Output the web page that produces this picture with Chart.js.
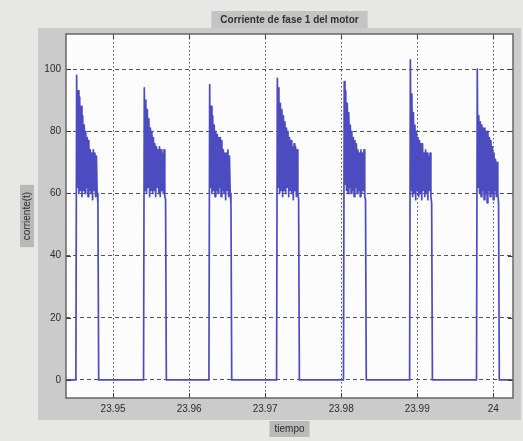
<!DOCTYPE html>
<html>
<head>
<meta charset="utf-8">
<script src="https://cdn.jsdelivr.net/npm/chart.js@4/dist/chart.umd.min.js"></script>
<style>
  html, body { margin: 0; padding: 0; background: #e7e7e5; }
  #wrap { width: 523px; height: 441px; position: relative; }
</style>
</head>
<body>
<div id="wrap"><canvas id="c" width="523" height="441"></canvas></div>
<script>
// Texts
const chartTitle = 'Corriente de fase 1 del motor';
const xAxisTitle = 'tiempo';
const yAxisTitle = 'corriente(t)';

// Axis ticks and limits
const xTickValues = [23.95, 23.96, 23.97, 23.98, 23.99, 24];
const yTickValues = [0, 20, 40, 60, 80, 100];
const timeLimits = [23.9438, 24.0026];
const currentLimits = [-5.8, 111.3];

// Idle current before the first and after the last pulse
const idleTime = [23.9438, 24.0026];
const idleCurrent = [0, 0];

// Phase-1 current samples, one pulse at a time (time in s, current in A)
const pulse1Time = [23.9451, 23.9452, 23.9453, 23.9454, 23.9455, 23.9456, 23.9457, 23.9458, 23.9459, 23.9460, 23.9461, 23.9462, 23.9463, 23.9464, 23.9465, 23.9466, 23.9467, 23.9468, 23.9469, 23.9470, 23.9471, 23.9472, 23.9473, 23.9474, 23.9475, 23.9476, 23.9477, 23.9478, 23.9479, 23.9480, 23.9481];
const pulse1Current = [0, 98, 62, 93, 60, 91, 61, 88, 59, 85, 61, 82, 60, 80, 62, 78, 59, 77, 61, 74, 60, 73, 58, 74, 61, 73, 59, 72, 60, 57, 0];

const pulse2Time = [23.9540, 23.9541, 23.9542, 23.9543, 23.9544, 23.9545, 23.9546, 23.9547, 23.9548, 23.9549, 23.9550, 23.9551, 23.9552, 23.9553, 23.9554, 23.9555, 23.9556, 23.9557, 23.9558, 23.9559, 23.9560, 23.9561, 23.9562, 23.9563, 23.9564, 23.9565, 23.9566, 23.9567, 23.9568, 23.9569, 23.9570];
const pulse2Current = [0, 94, 61, 90, 60, 87, 62, 84, 59, 81, 61, 80, 60, 78, 61, 76, 59, 75, 62, 74, 60, 75, 59, 74, 61, 73, 60, 74, 59, 58, 0];

const pulse3Time = [23.9626, 23.9627, 23.9628, 23.9629, 23.9630, 23.9631, 23.9632, 23.9633, 23.9634, 23.9635, 23.9636, 23.9637, 23.9638, 23.9639, 23.9640, 23.9641, 23.9642, 23.9643, 23.9644, 23.9645, 23.9646, 23.9647, 23.9648, 23.9649, 23.9650, 23.9651, 23.9652, 23.9653, 23.9654, 23.9655, 23.9656];
const pulse3Current = [0, 95, 62, 88, 60, 85, 61, 82, 59, 80, 61, 79, 60, 78, 62, 78, 59, 77, 61, 74, 60, 73, 58, 73, 61, 74, 59, 72, 60, 57, 0];

const pulse4Time = [23.9715, 23.9716, 23.9717, 23.9718, 23.9719, 23.9720, 23.9721, 23.9722, 23.9723, 23.9724, 23.9725, 23.9726, 23.9727, 23.9728, 23.9729, 23.9730, 23.9731, 23.9732, 23.9733, 23.9734, 23.9735, 23.9736, 23.9737, 23.9738, 23.9739, 23.9740, 23.9741, 23.9742, 23.9743, 23.9744, 23.9745];
const pulse4Current = [0, 97, 62, 94, 60, 89, 61, 87, 59, 85, 61, 83, 60, 81, 62, 80, 59, 78, 61, 77, 60, 75, 58, 76, 61, 75, 59, 74, 60, 58, 0];

const pulse5Time = [23.9803, 23.9804, 23.9805, 23.9806, 23.9807, 23.9808, 23.9809, 23.9810, 23.9811, 23.9812, 23.9813, 23.9814, 23.9815, 23.9816, 23.9817, 23.9818, 23.9819, 23.9820, 23.9821, 23.9822, 23.9823, 23.9824, 23.9825, 23.9826, 23.9827, 23.9828, 23.9829, 23.9830, 23.9831, 23.9832, 23.9833];
const pulse5Current = [0, 96, 63, 93, 61, 89, 60, 86, 62, 82, 60, 80, 61, 78, 59, 77, 62, 76, 60, 74, 61, 73, 59, 74, 60, 73, 61, 74, 59, 58, 0];

const pulse6Time = [23.9890, 23.9891, 23.9892, 23.9893, 23.9894, 23.9895, 23.9896, 23.9897, 23.9898, 23.9899, 23.9900, 23.9901, 23.9902, 23.9903, 23.9904, 23.9905, 23.9906, 23.9907, 23.9908, 23.9909, 23.9910, 23.9911, 23.9912, 23.9913, 23.9914, 23.9915, 23.9916, 23.9917, 23.9918, 23.9919, 23.9920];
const pulse6Current = [0, 103, 61, 92, 59, 86, 60, 82, 58, 80, 61, 78, 59, 77, 60, 76, 58, 76, 61, 73, 59, 74, 60, 73, 58, 72, 61, 73, 59, 57, 0];

const pulse7Time = [23.9978, 23.9979, 23.9980, 23.9981, 23.9982, 23.9983, 23.9984, 23.9985, 23.9986, 23.9987, 23.9988, 23.9989, 23.9990, 23.9991, 23.9992, 23.9993, 23.9994, 23.9995, 23.9996, 23.9997, 23.9998, 23.9999, 24.0000, 24.0001, 24.0002, 24.0003, 24.0004, 24.0005, 24.0006, 24.0007, 24.0008];
const pulse7Current = [0, 100, 62, 85, 60, 83, 59, 82, 61, 81, 58, 81, 60, 80, 57, 80, 61, 78, 59, 77, 60, 75, 58, 73, 61, 71, 59, 70, 60, 57, 0];

// Assemble the trace in time order
const pulses = [
  [pulse1Time, pulse1Current],
  [pulse2Time, pulse2Current],
  [pulse3Time, pulse3Current],
  [pulse4Time, pulse4Current],
  [pulse5Time, pulse5Current],
  [pulse6Time, pulse6Current],
  [pulse7Time, pulse7Current]
];
const trace = [{ x: idleTime[0], y: idleCurrent[0] }];
pulses.forEach(([t, i]) => t.forEach((tt, k) => trace.push({ x: tt, y: i[k] })));
trace.push({ x: idleTime[1], y: idleCurrent[1] });

const FONT = '"Liberation Sans", Arial, sans-serif';

// Figure panel, plot background, label boxes, frame and inside ticks
const figurePlugin = {
  id: 'figure',
  beforeDraw(chart) {
    const { ctx, chartArea: a } = chart;
    ctx.save();
    ctx.fillStyle = '#e7e7e5';
    ctx.fillRect(0, 0, chart.width, chart.height);
    ctx.fillStyle = '#cbcbcb';
    ctx.fillRect(38, 28, 483, 392);
    ctx.fillStyle = '#fcfcfc';
    ctx.fillRect(a.left, a.top, a.right - a.left, a.bottom - a.top);

    // boxes behind axis titles
    ctx.font = '10px ' + FONT;
    const cx = (a.left + a.right) / 2, cy = (a.top + a.bottom) / 2;
    ctx.fillStyle = '#b9b9b9';
    const wx = ctx.measureText(xAxisTitle).width + 10;
    ctx.fillRect(cx - wx / 2, 421, wx, 16);
    const wy = ctx.measureText(yAxisTitle).width + 14;
    ctx.fillRect(20, cy - wy / 2, 14, wy);

    // title box and text
    ctx.font = 'bold 10px ' + FONT;
    const wt = ctx.measureText(chartTitle).width + 18;
    ctx.fillStyle = '#c4c4c4';
    ctx.fillRect(cx - wt / 2, 11, wt, 17);
    ctx.fillStyle = '#303030';
    ctx.textAlign = 'center';
    ctx.textBaseline = 'middle';
    ctx.fillText(chartTitle, cx, 20);
    ctx.restore();
  },
  afterDatasetsDraw(chart) {
    const { ctx, chartArea: a, scales } = chart;
    ctx.save();
    ctx.strokeStyle = '#3a3a3a';
    ctx.lineWidth = 1;
    ctx.beginPath();
    xTickValues.forEach(v => {
      const px = Math.round(scales.x.getPixelForValue(v)) + 0.5;
      ctx.moveTo(px, a.bottom); ctx.lineTo(px, a.bottom - 5);
      ctx.moveTo(px, a.top); ctx.lineTo(px, a.top + 5);
    });
    yTickValues.forEach(v => {
      const py = Math.round(scales.y.getPixelForValue(v)) + 0.5;
      ctx.moveTo(a.left, py); ctx.lineTo(a.left + 5, py);
      ctx.moveTo(a.right, py); ctx.lineTo(a.right - 5, py);
    });
    ctx.stroke();
    ctx.strokeStyle = '#676767';
    ctx.lineWidth = 1.5;
    ctx.strokeRect(a.left, a.top, a.right - a.left, a.bottom - a.top);
    ctx.restore();
  }
};

new Chart(document.getElementById('c'), {
  type: 'line',
  data: {
    datasets: [{
      data: trace,
      borderColor: 'rgb(76, 76, 192)',
      borderWidth: 1.7,
      borderJoinStyle: 'round',
      borderCapStyle: 'round',
      pointRadius: 0,
      tension: 0,
      fill: false
    }]
  },
  options: {
    responsive: false,
    animation: false,
    events: [],
    layout: { padding: { top: 34, right: 10, left: 0, bottom: 0 } },
    plugins: { legend: { display: false }, tooltip: { enabled: false }, title: { display: false } },
    scales: {
      x: {
        type: 'linear',
        min: timeLimits[0],
        max: timeLimits[1],
        afterFit: s => { s.height = 43; },
        afterBuildTicks: s => { s.ticks = xTickValues.map(v => ({ value: v })); },
        ticks: {
          autoSkip: false,
          maxRotation: 0,
          padding: 5,
          color: '#2c2c2c',
          font: { family: FONT, size: 10 },
          callback: v => String(Number(v.toFixed(2)))
        },
        grid: { color: '#555555', lineWidth: 1, drawTicks: false },
        border: { display: false, dash: [1.5, 2.5] },
        title: {
          display: true,
          text: xAxisTitle,
          color: '#2c2c2c',
          font: { family: FONT, size: 10 },
          padding: { top: 0, bottom: 6 }
        }
      },
      y: {
        type: 'linear',
        min: currentLimits[0],
        max: currentLimits[1],
        afterFit: s => { s.width = 66; },
        afterBuildTicks: s => { s.ticks = yTickValues.map(v => ({ value: v })); },
        ticks: {
          padding: 5,
          color: '#2c2c2c',
          font: { family: FONT, size: 10 }
        },
        grid: { color: '#555555', lineWidth: 1, drawTicks: false },
        border: { display: false, dash: [4, 3] },
        title: {
          display: true,
          text: yAxisTitle,
          color: '#2c2c2c',
          font: { family: FONT, size: 10 },
          padding: { top: 21, bottom: 0 }
        }
      }
    }
  },
  plugins: [figurePlugin]
});
</script>
</body>
</html>
